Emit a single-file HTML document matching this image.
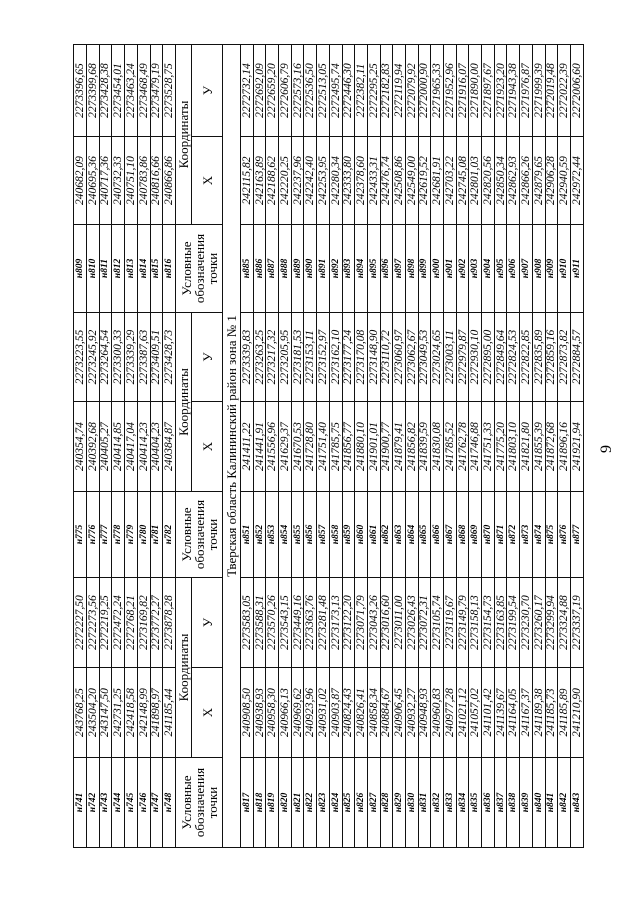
<!DOCTYPE html>
<html><head><meta charset="utf-8"><style>
html,body{margin:0;padding:0;background:#fff;}
body{width:640px;height:905px;position:relative;overflow:hidden;font-family:"Liberation Serif",serif;color:#000;}
#rot{position:absolute;left:73px;top:848px;width:803px;height:510px;transform-origin:0 0;transform:rotate(-90deg);}
table{border-collapse:collapse;table-layout:fixed;width:803px;}
td{border:1px solid #111;padding:0;text-align:center;overflow:hidden;white-space:nowrap;font-size:11.5px;font-style:italic;line-height:10px;}
td.l{font-weight:bold;font-size:9.5px;}
tr.r td{height:11.75px;}
tr.s td{height:11.7px;}
td.h{font-style:normal;font-size:13px;line-height:13px;white-space:normal;}
#pg{position:absolute;left:603px;top:440px;font-size:16px;transform:rotate(-90deg);}
</style></head><body>
<div id="pg">9</div>
<div id="rot"><table>
<colgroup><col style="width:90px"><col style="width:90px"><col style="width:90px"><col style="width:86px"><col style="width:90px"><col style="width:89px"><col style="width:88px"><col style="width:88px"><col style="width:92px"></colgroup>
<tr class="r"><td class="l">н741</td><td>243768,25</td><td>2272227,50</td><td class="l">н775</td><td>240354,74</td><td>2273223,55</td><td class="l">н809</td><td>240682,09</td><td>2273396,65</td></tr>
<tr class="r"><td class="l">н742</td><td>243504,20</td><td>2272273,56</td><td class="l">н776</td><td>240392,68</td><td>2273245,92</td><td class="l">н810</td><td>240695,36</td><td>2273399,68</td></tr>
<tr class="r"><td class="l">н743</td><td>243147,50</td><td>2272219,25</td><td class="l">н777</td><td>240405,27</td><td>2273264,54</td><td class="l">н811</td><td>240717,36</td><td>2273428,38</td></tr>
<tr class="r"><td class="l">н744</td><td>242731,25</td><td>2272472,24</td><td class="l">н778</td><td>240414,85</td><td>2273300,33</td><td class="l">н812</td><td>240732,33</td><td>2273454,01</td></tr>
<tr class="r"><td class="l">н745</td><td>242418,58</td><td>2272768,21</td><td class="l">н779</td><td>240417,04</td><td>2273339,29</td><td class="l">н813</td><td>240751,10</td><td>2273463,24</td></tr>
<tr class="r"><td class="l">н746</td><td>242148,99</td><td>2273169,82</td><td class="l">н780</td><td>240414,23</td><td>2273387,63</td><td class="l">н814</td><td>240783,86</td><td>2273468,49</td></tr>
<tr class="r"><td class="l">н747</td><td>241898,97</td><td>2273772,27</td><td class="l">н781</td><td>240404,23</td><td>2273409,51</td><td class="l">н815</td><td>240816,66</td><td>2273479,19</td></tr>
<tr class="r"><td class="l">н748</td><td>241185,44</td><td>2273878,28</td><td class="l">н782</td><td>240384,87</td><td>2273428,73</td><td class="l">н816</td><td>240866,86</td><td>2273528,75</td></tr>
<tr><td class="h" rowspan="2" style="height:46px">Условные обозначения точки</td><td class="h" colspan="2" style="height:15px">Координаты</td><td class="h" rowspan="2">Условные обозначения точки</td><td class="h" colspan="2">Координаты</td><td class="h" rowspan="2">Условные обозначения точки</td><td class="h" colspan="2">Координаты</td></tr>
<tr><td class="h" style="height:30px">X</td><td class="h">У</td><td class="h">X</td><td class="h">У</td><td class="h">X</td><td class="h">У</td></tr>
<tr><td class="h" colspan="9" style="height:17px">Тверская область Калининский район зона № 1</td></tr>
<tr class="s"><td class="l">н817</td><td>240908,50</td><td>2273583,05</td><td class="l">н851</td><td>241411,22</td><td>2273339,83</td><td class="l">н885</td><td>242115,82</td><td>2272732,14</td></tr>
<tr class="s"><td class="l">н818</td><td>240938,93</td><td>2273588,31</td><td class="l">н852</td><td>241441,91</td><td>2273263,25</td><td class="l">н886</td><td>242163,89</td><td>2272692,09</td></tr>
<tr class="s"><td class="l">н819</td><td>240958,30</td><td>2273570,26</td><td class="l">н853</td><td>241556,96</td><td>2273217,32</td><td class="l">н887</td><td>242188,62</td><td>2272659,20</td></tr>
<tr class="s"><td class="l">н820</td><td>240966,13</td><td>2273543,15</td><td class="l">н854</td><td>241629,37</td><td>2273205,95</td><td class="l">н888</td><td>242220,25</td><td>2272606,79</td></tr>
<tr class="s"><td class="l">н821</td><td>240969,62</td><td>2273449,16</td><td class="l">н855</td><td>241670,53</td><td>2273181,53</td><td class="l">н889</td><td>242237,96</td><td>2272573,16</td></tr>
<tr class="s"><td class="l">н822</td><td>240923,96</td><td>2273363,76</td><td class="l">н856</td><td>241728,80</td><td>2273153,11</td><td class="l">н890</td><td>242242,40</td><td>2272536,50</td></tr>
<tr class="s"><td class="l">н823</td><td>240931,02</td><td>2273281,48</td><td class="l">н857</td><td>241751,40</td><td>2273152,97</td><td class="l">н891</td><td>242253,95</td><td>2272513,05</td></tr>
<tr class="s"><td class="l">н824</td><td>240903,87</td><td>2273173,13</td><td class="l">н858</td><td>241785,75</td><td>2273162,10</td><td class="l">н892</td><td>242280,34</td><td>2272495,74</td></tr>
<tr class="s"><td class="l">н825</td><td>240824,43</td><td>2273122,20</td><td class="l">н859</td><td>241856,77</td><td>2273177,24</td><td class="l">н893</td><td>242333,80</td><td>2272446,30</td></tr>
<tr class="s"><td class="l">н826</td><td>240826,41</td><td>2273071,79</td><td class="l">н860</td><td>241880,10</td><td>2273170,08</td><td class="l">н894</td><td>242378,60</td><td>2272382,11</td></tr>
<tr class="s"><td class="l">н827</td><td>240858,34</td><td>2273043,26</td><td class="l">н861</td><td>241901,01</td><td>2273148,90</td><td class="l">н895</td><td>242433,31</td><td>2272295,25</td></tr>
<tr class="s"><td class="l">н828</td><td>240884,67</td><td>2273016,60</td><td class="l">н862</td><td>241900,77</td><td>2273110,72</td><td class="l">н896</td><td>242476,74</td><td>2272182,83</td></tr>
<tr class="s"><td class="l">н829</td><td>240906,45</td><td>2273011,00</td><td class="l">н863</td><td>241879,41</td><td>2273060,97</td><td class="l">н897</td><td>242508,86</td><td>2272119,94</td></tr>
<tr class="s"><td class="l">н830</td><td>240932,27</td><td>2273026,43</td><td class="l">н864</td><td>241856,82</td><td>2273062,67</td><td class="l">н898</td><td>242549,00</td><td>2272079,92</td></tr>
<tr class="s"><td class="l">н831</td><td>240948,93</td><td>2273072,31</td><td class="l">н865</td><td>241839,59</td><td>2273049,53</td><td class="l">н899</td><td>242619,52</td><td>2272000,90</td></tr>
<tr class="s"><td class="l">н832</td><td>240960,83</td><td>2273105,74</td><td class="l">н866</td><td>241830,08</td><td>2273024,65</td><td class="l">н900</td><td>242681,91</td><td>2271965,33</td></tr>
<tr class="s"><td class="l">н833</td><td>240977,28</td><td>2273119,67</td><td class="l">н867</td><td>241785,52</td><td>2273003,11</td><td class="l">н901</td><td>242703,22</td><td>2271952,96</td></tr>
<tr class="s"><td class="l">н834</td><td>241021,12</td><td>2273149,79</td><td class="l">н868</td><td>241762,78</td><td>2272979,87</td><td class="l">н902</td><td>242745,08</td><td>2271916,07</td></tr>
<tr class="s"><td class="l">н835</td><td>241057,02</td><td>2273158,13</td><td class="l">н869</td><td>241746,88</td><td>2272930,10</td><td class="l">н903</td><td>242801,03</td><td>2271890,00</td></tr>
<tr class="s"><td class="l">н836</td><td>241101,42</td><td>2273154,73</td><td class="l">н870</td><td>241751,33</td><td>2272895,00</td><td class="l">н904</td><td>242820,56</td><td>2271897,67</td></tr>
<tr class="s"><td class="l">н837</td><td>241139,67</td><td>2273163,85</td><td class="l">н871</td><td>241775,20</td><td>2272849,64</td><td class="l">н905</td><td>242850,34</td><td>2271923,20</td></tr>
<tr class="s"><td class="l">н838</td><td>241164,05</td><td>2273199,54</td><td class="l">н872</td><td>241803,10</td><td>2272824,53</td><td class="l">н906</td><td>242862,93</td><td>2271943,38</td></tr>
<tr class="s"><td class="l">н839</td><td>241167,37</td><td>2273230,70</td><td class="l">н873</td><td>241821,80</td><td>2272822,85</td><td class="l">н907</td><td>242866,26</td><td>2271976,87</td></tr>
<tr class="s"><td class="l">н840</td><td>241189,38</td><td>2273260,17</td><td class="l">н874</td><td>241855,39</td><td>2272835,89</td><td class="l">н908</td><td>242879,65</td><td>2271999,39</td></tr>
<tr class="s"><td class="l">н841</td><td>241185,73</td><td>2273299,94</td><td class="l">н875</td><td>241872,68</td><td>2272859,16</td><td class="l">н909</td><td>242906,28</td><td>2272019,48</td></tr>
<tr class="s"><td class="l">н842</td><td>241185,89</td><td>2273324,88</td><td class="l">н876</td><td>241896,16</td><td>2272873,82</td><td class="l">н910</td><td>242940,59</td><td>2272022,39</td></tr>
<tr class="s"><td class="l">н843</td><td>241210,90</td><td>2273337,19</td><td class="l">н877</td><td>241921,94</td><td>2272884,57</td><td class="l">н911</td><td>242972,44</td><td>2272006,60</td></tr>
</table></div>
</body></html>
